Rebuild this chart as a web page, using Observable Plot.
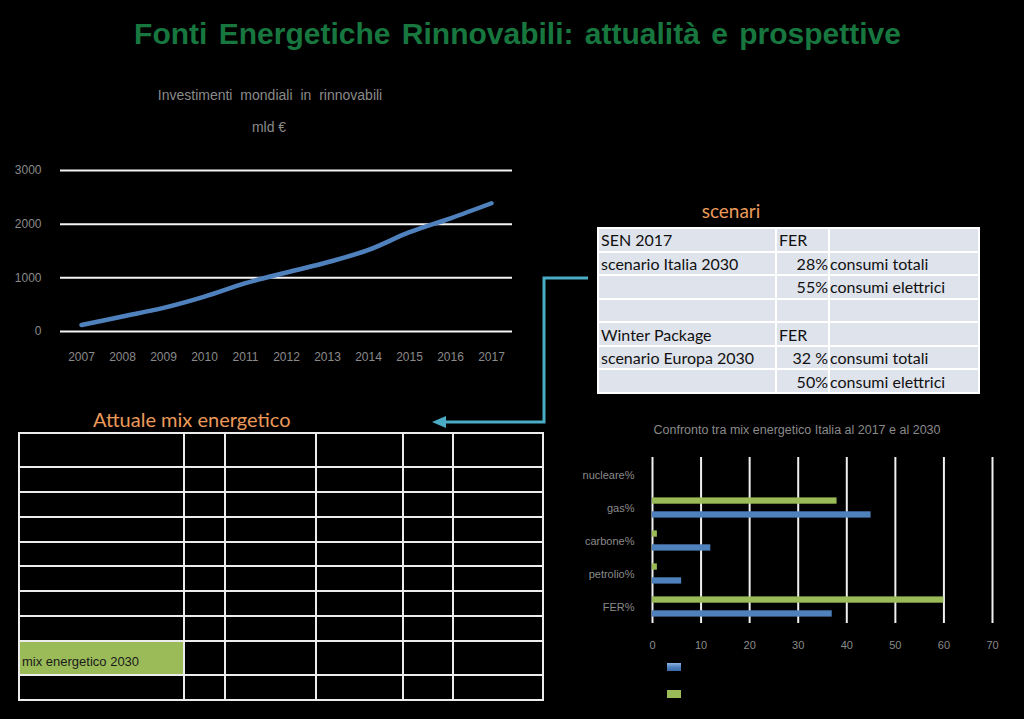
<!DOCTYPE html>
<html>
<head>
<meta charset="utf-8">
<script src="https://cdn.jsdelivr.net/npm/d3@7"></script>
<script src="https://cdn.jsdelivr.net/npm/@observablehq/plot@0.6"></script>
<style>
  html, body { margin: 0; padding: 0; background: #000; }
  #slide { position: relative; width: 1024px; height: 719px; overflow: hidden; background: #000; font-family: "Liberation Sans", Arial, sans-serif; }
  .abs { position: absolute; }
  #title { left: 0; width: 1035px; top: 17px; text-align: center; color: #17773f; font-weight: bold; font-size: 30px; word-spacing: 3px; white-space: nowrap; }
  .gray { color: #8a8a8a; white-space: nowrap; }
  .orange { color: #eb9a5a; font-family: Lato, "Open Sans", sans-serif; white-space: nowrap; }
  table { border-collapse: collapse; table-layout: fixed; }
  #scen tr { height: 23.57px; }
  #scen td { background: #dfe3ec; border: 2px solid #fff; padding: 0 2px; font-family: Lato, sans-serif; font-size: 16px; color: #111; white-space: nowrap; overflow: hidden; }
  #mix td { border: 2px solid #ececec; background: #000; padding: 0; }
  #mix td.green { background: #9bbb59; color: #1a1a1a; font-size: 13px; vertical-align: bottom; padding: 0 0 5px 2px; white-space: nowrap; }
  .sw { position: absolute; width: 14px; height: 8px; }
</style>
</head>
<body>
<div id="slide">
  <div id="title" class="abs">Fonti Energetiche Rinnovabili: attualità e prospettive</div>
  <div class="abs gray" id="t1" style="left:0;width:540px;top:87px;text-align:center;font-size:14px;word-spacing:4px;">Investimenti mondiali in rinnovabili</div>
  <div class="abs gray" style="left:0;width:538px;top:119px;text-align:center;font-size:14px;">mld €</div>
  <div class="abs" id="lineChart" style="left:0;top:0;"></div>
  <div class="abs orange" style="left:590px;width:282px;top:199px;text-align:center;font-size:19px;">scenari</div>
  <div class="abs" id="scenWrap" style="left:597px;top:227px;"></div>
  <div class="abs orange" style="left:93px;top:407px;font-size:20px;">Attuale mix energetico</div>
  <div class="abs" id="mixWrap" style="left:18px;top:432px;"></div>
  <div class="abs gray" style="left:560px;width:474px;top:423px;text-align:center;font-size:12.5px;">Confronto tra mix energetico Italia al 2017 e al 2030</div>
  <div class="abs" id="barChart" style="left:560px;top:440px;"></div>
  <div class="sw" style="left:667px;top:663px;background:linear-gradient(#8db3e2,#4f81bd 50%,#3c6aa8);"></div>
  <div class="sw" style="left:667px;top:690px;background:#9bbb59;"></div>
  <svg class="abs" style="left:0;top:0;pointer-events:none;" width="1024" height="719">
    <polyline points="588,278 544,278 544,422 444,422" fill="none" stroke="#4bacc6" stroke-width="3"/>
    <polygon points="432,422 446,416 446,428" fill="#4bacc6"/>
  </svg>
</div>
<script>
// ---- data ----
const years = ["2007","2008","2009","2010","2011","2012","2013","2014","2015","2016","2017"];
const investimenti = [120, 280, 440, 650, 900, 1100, 1290, 1520, 1850, 2110, 2390];
const investTicks = [0, 1000, 2000, 3000];

const fonti = ["nucleare%", "gas%", "carbone%", "petrolio%", "FER%"];
const mix2017 = [0, 45, 12, 6, 37];
const mix2030 = [0, 38, 1, 1, 60];
const mixTicks = [0, 10, 20, 30, 40, 50, 60, 70];

const scenCol1 = ["SEN 2017", "scenario Italia 2030", "", "", "Winter Package", "scenario Europa 2030", ""];
const scenCol2 = ["FER", "28%", "55%", "", "FER", "32 %", "50%"];
const scenCol3 = ["", "consumi totali", "consumi elettrici", "", "", "consumi totali", "consumi elettrici"];

const mixTableLabels = ["", "", "", "", "", "", "", "", "mix energetico 2030", ""];

// ---- line chart ----
const lineData = years.map((y, i) => ({year: y, value: investimenti[i]}));
const line = Plot.plot({
  width: 530, height: 380,
  marginLeft: 60, marginRight: 18, marginTop: 170, marginBottom: 49,
  style: {background: "transparent", color: "#8a8a8a", fontSize: "12px", fontFamily: "Liberation Sans, Arial, sans-serif"},
  x: {type: "point", domain: years, padding: 0.5, tickSize: 0, tickPadding: 21, label: null},
  y: {domain: [0, 3000], ticks: investTicks, tickFormat: "d", tickSize: 0, tickPadding: 19, label: null},
  marks: [
    Plot.ruleY(investTicks, {stroke: "#f4f4f4", strokeWidth: 2}),
    Plot.line(lineData, {x: "year", y: "value", stroke: "#4f81bd", strokeWidth: 4.5, curve: "catmull-rom", strokeLinecap: "round"})
  ]
});
document.getElementById("lineChart").appendChild(line);

// ---- bar chart ----
const barData = [];
fonti.forEach((f, i) => {
  barData.push({fonte: f, anno: "2017", v: mix2017[i]});
  barData.push({fonte: f, anno: "2030", v: mix2030[i]});
});
const bar = Plot.plot({
  width: 464, height: 230,
  marginLeft: 92, marginRight: 32, marginTop: 17, marginBottom: 47,
  style: {background: "transparent", color: "#8a8a8a", fontSize: "11px", fontFamily: "Liberation Sans, Arial, sans-serif"},
  x: {domain: [0, 70], ticks: mixTicks, tickSize: 0, tickPadding: 18, label: null},
  y: {type: "band", domain: fonti, padding: 0, tickSize: 0, tickPadding: 18, label: null},
  marks: [
    Plot.ruleX(mixTicks, {stroke: "#f0f0f0", strokeWidth: 2}),
    Plot.barX(barData.filter(d => d.anno === "2030"), {y: "fonte", x: "v", fill: "#9bbb59", insetTop: 6.4, insetBottom: 20.3}),
    Plot.barX(barData.filter(d => d.anno === "2017"), {y: "fonte", x: "v", fill: "#4f81bd", insetTop: 20.3, insetBottom: 6.4})
  ]
});
document.getElementById("barChart").appendChild(bar);

// ---- scenari table ----
const scenWidths = [178, 53, 150];
const st = document.createElement("table");
st.id = "scen";
st.style.width = "383px";
const cg = document.createElement("colgroup");
scenWidths.forEach(w => { const c = document.createElement("col"); c.style.width = w + "px"; cg.appendChild(c); });
st.appendChild(cg);
scenCol1.forEach((c1, i) => {
  const tr = document.createElement("tr");
  [c1, scenCol2[i], scenCol3[i]].forEach((txt, j) => {
    const td = document.createElement("td");
    td.textContent = txt;
    if (j === 1 && /%/.test(txt)) { td.style.textAlign = "right"; td.style.paddingRight = "0px"; }
    if (j === 2) td.style.paddingLeft = "0px";
    tr.appendChild(td);
  });
  st.appendChild(tr);
});
document.getElementById("scenWrap").appendChild(st);

// ---- empty mix table ----
const mixColW = [165, 41, 91, 87, 50, 90];
const mixRowH = [34, 25, 25, 25, 24, 25, 25, 25, 34, 25];
const mt = document.createElement("table");
mt.id = "mix";
mt.style.width = "526px";
const cg2 = document.createElement("colgroup");
mixColW.forEach(w => { const c = document.createElement("col"); c.style.width = w + "px"; cg2.appendChild(c); });
mt.appendChild(cg2);
mixRowH.forEach((h, i) => {
  const tr = document.createElement("tr");
  mixColW.forEach((w, j) => {
    const td = document.createElement("td");
    td.style.height = (h - 2) + "px";
    if (j === 0 && mixTableLabels[i]) { td.className = "green"; td.textContent = mixTableLabels[i]; td.style.height = (h - 7) + "px"; }
    tr.appendChild(td);
  });
  mt.appendChild(tr);
});
document.getElementById("mixWrap").appendChild(mt);
</script>
</body>
</html>
